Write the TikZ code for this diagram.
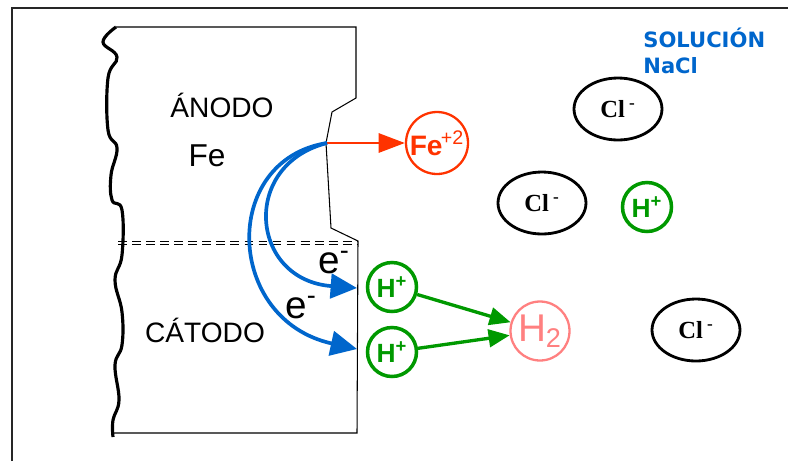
\documentclass[tikz,border=0pt]{standalone}
\usepackage{fontspec}
\setmainfont{Liberation Sans}
\newfontfamily\ionserif{Liberation Serif}
\newfontfamily\labelsans{DejaVu Sans}
\usepackage{xcolor}
\usepackage{tikz}
\usetikzlibrary{arrows.meta,shapes.geometric}
\definecolor{primary}{RGB}{0, 0, 0}
\definecolor{electron}{RGB}{0, 102, 204}
\definecolor{iron}{RGB}{255, 51, 0}
\definecolor{proton}{RGB}{0, 153, 0}
\definecolor{hydrogen}{RGB}{255, 128, 128}

\begin{document}
\begin{tikzpicture}[x=0.02cm,y=-0.02cm,
  hion/.style={circle,draw=proton,line width=2pt,minimum size=0.98cm,inner sep=0pt,text=proton,font=\fontsize{15}{15}\selectfont\bfseries},
  clion/.style={ellipse,draw=primary,line width=1.6pt,minimum width=1.76cm,minimum height=1.24cm,inner sep=0pt,font=\ionserif\fontsize{14}{14}\selectfont\bfseries}]
\useasboundingbox (0,0) rectangle (788,461);
\draw[primary!85,line width=1pt] (12,461) -- (12,8) -- (788,8);
% electrode
\draw[primary,line width=0.6pt] (116,27) -- (356,27) -- (356,98) -- (332,112) -- (326,143) -- (331,228) -- (358,241) -- (357,433) -- (113,433);
\draw[primary,line width=1.8pt] plot[smooth,tension=0.7] coordinates {(116,27) (103,42) (117,57) (108,78) (108,130) (117,148) (111,175) (112,200) (122,210) (122,255) (115,280) (122,312) (122,345) (115,365) (119,400) (113,420) (113,437)};
\draw[primary,dashed,dash pattern=on 5pt off 3pt,line width=0.5pt] (118,241) -- (358,241);
\draw[primary,dashed,dash pattern=on 5pt off 3pt,line width=0.5pt] (118,244.5) -- (358,244.5);
\node[anchor=base,font=\fontsize{16}{16}\selectfont] (anodo) at (222,117) {ÁNODO};
\node[anchor=base,font=\fontsize{18}{18}\selectfont] (femetal) at (207,166) {Fe};
\node[anchor=base,font=\fontsize{16}{16}\selectfont] (catodo) at (205,342) {CÁTODO};
\node[anchor=base west,inner sep=0pt,font=\fontsize{22}{22}\selectfont] (elab1) at (318,273) {e\textsuperscript{-}};
\node[anchor=base west,inner sep=0pt,font=\fontsize{22}{22}\selectfont] (elab2) at (285,318) {e\textsuperscript{-}};
% ions
\node[circle,draw=iron,line width=1.3pt,minimum size=1.24cm,inner sep=0pt,text=iron,font=\fontsize{16}{16}\selectfont\bfseries] (fe) at (437,143) {Fe\kern-1pt\textsuperscript{\mdseries+2}};
\node[hion] (h1) at (392,287) {H\textsuperscript{+}};
\node[hion] (h2) at (392,352) {H\textsuperscript{+}};
\node[hion] (h3) at (647,207) {H\textsuperscript{+}};
\node[circle,draw=hydrogen,line width=1.3pt,minimum size=1.18cm,inner sep=0pt,text=hydrogen,font=\fontsize{22}{22}\selectfont] (h2gas) at (540,331) {H\textsubscript{2}};
\node[clion] (cl1) at (618,109) {Cl\,\textsuperscript{-}};
\node[clion] (cl2) at (542,203) {Cl\,\textsuperscript{-}};
\node[clion] (cl3) at (696,330) {Cl\,\textsuperscript{-}};
\node[anchor=base west,inner sep=0pt,align=left,text=electron,font=\labelsans\fontsize{12}{14.7}\selectfont\bfseries] (sol) at (643,73) {SOLUCIÓN\\NaCl};
% arrows
\coordinate (pit) at (327,143);
\coordinate (end1) at (357,288);
\coordinate (end2) at (357,349);
\draw[iron,line width=1.3pt,-{Triangle[length=15pt,width=11pt]}] (pit) -- (fe);
\draw[electron,line width=2.1pt,-{Triangle[length=15pt,width=14pt]}] (pit) .. controls (240,165) and (250,280) .. (end1);
\draw[electron,line width=2.1pt,-{Triangle[length=15pt,width=14pt]}] (pit) .. controls (220,160) and (225,320) .. (end2);
\draw[proton,line width=1.9pt,-{Triangle[length=12pt,width=10pt]}] (h1) -- (h2gas);
\draw[proton,line width=1.9pt,-{Triangle[length=12pt,width=10pt]}] (h2) -- (h2gas);
\end{tikzpicture}
\end{document}
